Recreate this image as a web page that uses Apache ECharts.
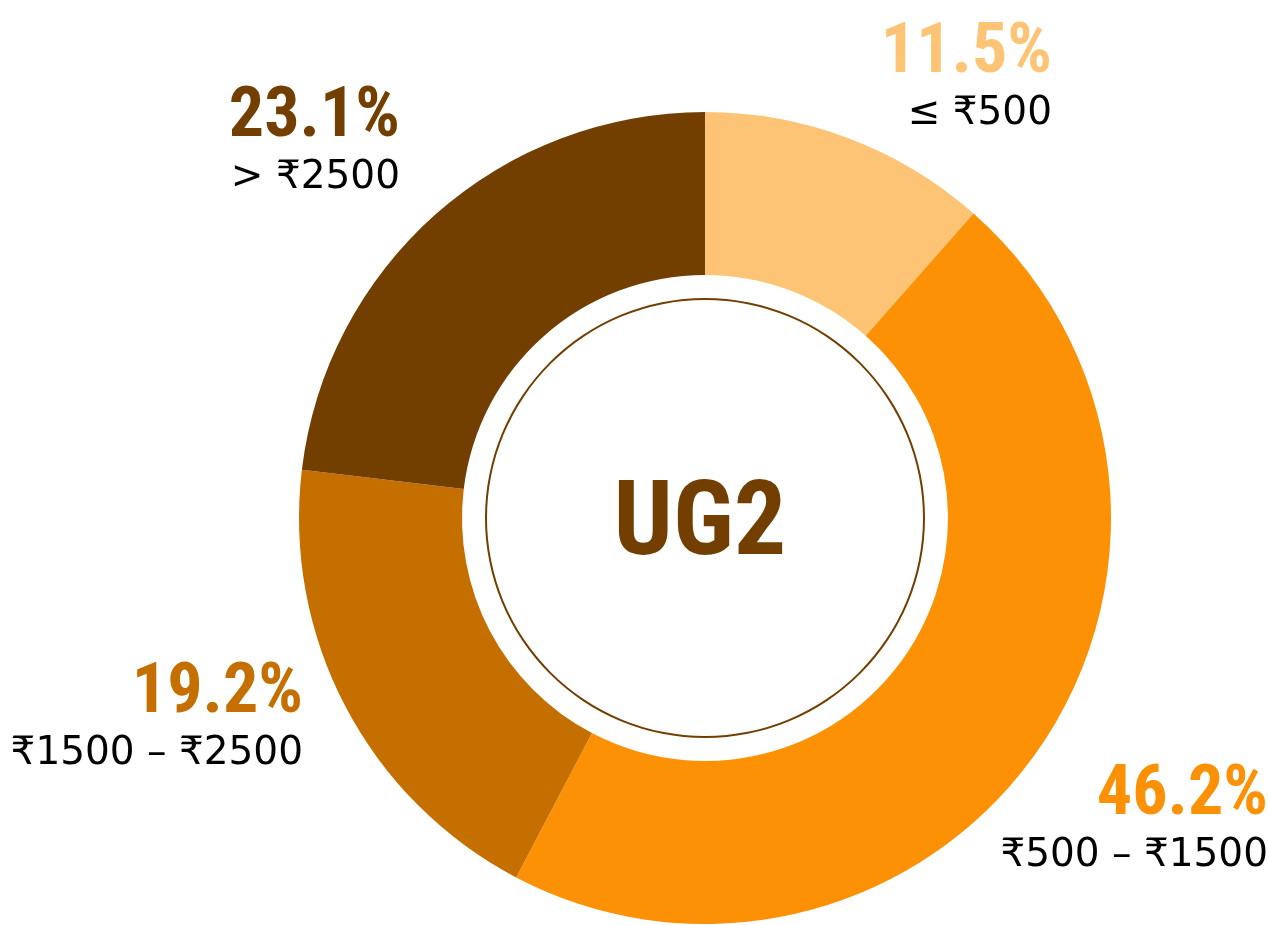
<!DOCTYPE html>
<html><head><meta charset="utf-8">
<script src="https://cdn.jsdelivr.net/npm/echarts@6/dist/echarts.min.js"></script>
<style>html,body{margin:0;padding:0;background:#fff}#c{width:1268px;height:925px}</style>
</head><body><div id="c"></div>
<script>
const categories = ['≤ ₹500', '₹500 – ₹1500', '₹1500 – ₹2500', '> ₹2500'];
const values = [11.5, 46.2, 19.2, 23.1];
const colors = ['#FDC476', '#FD9105', '#C46F00', '#723F00'];
const centerLabel = 'UG2';
const labelAnchors = [[1052, 16], [1268, 758], [303, 656], [400, 80]];

const BOLD = '"Roboto Condensed", "DejaVu Sans Condensed", sans-serif';
const REG = '"DejaVu Sans", "Noto Sans", sans-serif';
const chart = echarts.init(document.getElementById('c'), null, {renderer: 'canvas'});
chart.setOption({
  animation: false,
  backgroundColor: '#fff',
  title: {
    text: centerLabel, left: 695, top: 523, textAlign: 'center', textVerticalAlign: 'middle',
    textStyle: {fontFamily: BOLD, fontWeight: 'bold', fontSize: 104, color: '#723F00'}
  },
  series: [
    {
      type: 'pie', center: [705, 518], radius: [243, 406], startAngle: 90, clockwise: true,
      avoidLabelOverlap: false,
      data: categories.map((c, i) => ({name: c, value: values[i], itemStyle: {color: colors[i]},
        label: {rich: {p: {color: colors[i]}}}})),
      label: {
        show: true, position: 'outside',
        formatter: p => '{p|' + p.value.toFixed(1) + '%}\n{c|' + p.name + '}',
        align: 'right',
        rich: {
          p: {fontFamily: BOLD, fontWeight: 'bold', fontSize: 70, lineHeight: 76, align: 'right'},
          c: {fontFamily: REG, fontSize: 39, lineHeight: 44, color: '#000', align: 'right'}
        }
      },
      labelLine: {show: false},
      labelLayout: p => ({x: labelAnchors[p.dataIndex][0], y: labelAnchors[p.dataIndex][1], align: 'right', verticalAlign: 'top'}),
      emphasis: {disabled: true}
    },
    {
      type: 'pie', center: [705, 518], radius: [218, 220], silent: true,
      data: [{value: 1, itemStyle: {color: '#723F00'}}],
      label: {show: false}, labelLine: {show: false}
    }
  ]
});
</script></body></html>
